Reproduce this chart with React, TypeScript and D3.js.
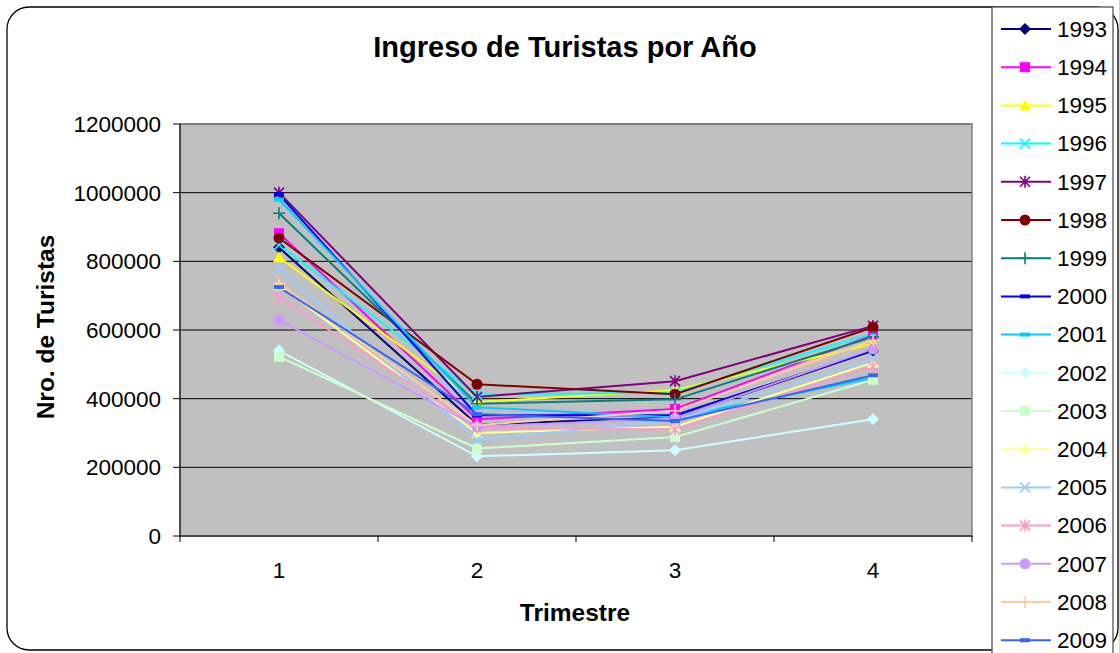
import React from "react";
import * as d3 from "d3";

const quarters = ["1", "2", "3", "4"];
const years = ["1993","1994","1995","1996","1997","1998","1999","2000","2001","2002","2003","2004","2005","2006","2007","2008","2009"];
const v1993 = [840000, 325000, 345000, 540000];
const v1994 = [882000, 340000, 370000, 585000];
const v1995 = [812000, 390000, 425000, 560000];
const v1996 = [848000, 412000, 418000, 590000];
const v1997 = [1000000, 405000, 451000, 612000];
const v1998 = [868000, 442000, 413000, 608000];
const v1999 = [940000, 385000, 398000, 580000];
const v2000 = [995000, 352000, 352000, 540000];
const v2001 = [980000, 375000, 345000, 460000];
const v2002 = [540000, 232000, 250000, 340000];
const v2003 = [522000, 255000, 288000, 455000];
const v2004 = [730000, 300000, 318000, 505000];
const v2005 = [778000, 280000, 338000, 515000];
const v2006 = [696000, 315000, 310000, 493000];
const v2007 = [629000, 318000, 343000, 545000];
const v2008 = [735000, 323000, 365000, 570000];
const v2009 = [725000, 355000, 335000, 468000];
const seriesValues = [v1993,v1994,v1995,v1996,v1997,v1998,v1999,v2000,v2001,v2002,v2003,v2004,v2005,v2006,v2007,v2008,v2009];
const colors = ["#000080","#FF00FF","#FFFF00","#00FFFF","#800080","#800000","#008080","#0000FF","#00CCFF","#CCFFFF","#CCFFCC","#FFFF99","#99CCFF","#FF99CC","#CC99FF","#FFCC99","#3366FF"];
const markers = ["diamond","square","triangle","x","star","circle","plus","dash","dash","diamond","square","triangle","x","star","circle","plus","dash"];
const yTicks = [0, 200000, 400000, 600000, 800000, 1000000, 1200000];

const FONT = "'Liberation Sans', Arial, Helvetica, sans-serif";

function Marker({ type, x, y, color }: { type: string; x: number; y: number; color: string }) {
  switch (type) {
    case "diamond":
      return <path d={`M${x},${y - 6}L${x + 6},${y}L${x},${y + 6}L${x - 6},${y}Z`} fill={color} />;
    case "square":
      return <rect x={x - 5} y={y - 5} width={10} height={10} fill={color} />;
    case "triangle":
      return <path d={`M${x},${y - 6}L${x + 6},${y + 5}L${x - 6},${y + 5}Z`} fill={color} />;
    case "circle":
      return <circle cx={x} cy={y} r={5.5} fill={color} />;
    case "x":
      return <path d={`M${x - 5},${y - 5}L${x + 5},${y + 5}M${x - 5},${y + 5}L${x + 5},${y - 5}`} stroke={color} strokeWidth={1.6} fill="none" />;
    case "star":
      return <path d={`M${x - 5},${y - 5}L${x + 5},${y + 5}M${x - 5},${y + 5}L${x + 5},${y - 5}M${x},${y - 6}L${x},${y + 6}`} stroke={color} strokeWidth={1.6} fill="none" />;
    case "plus":
      return <path d={`M${x - 6},${y}L${x + 6},${y}M${x},${y - 6}L${x},${y + 6}`} stroke={color} strokeWidth={1.6} fill="none" />;
    case "dash":
      return <rect x={x - 5} y={y - 2} width={10} height={4} fill={color} />;
    default:
      return null;
  }
}

export default function App() {
  const W = 1119, H = 653;
  const plot = { left: 180, right: 972, top: 124, bottom: 536 };
  const x = d3.scaleBand<string>().domain(quarters).range([plot.left, plot.right]);
  const y = d3.scaleLinear().domain([0, 1200000]).range([plot.bottom, plot.top]);
  const line = d3.line<number>()
    .x((_, i) => (x(quarters[i]) as number) + x.bandwidth() / 2)
    .y((d) => y(d));
  const boundaries = quarters.map((q) => x(q) as number).concat([plot.right]);
  const legendY0 = 29, legendStep = 38.2;

  return (
    <div style={{ position: "absolute", left: 0, top: 0 }}>
      <svg width={W} height={H} style={{ display: "block", fontFamily: FONT }}>
        <rect x={0} y={0} width={W} height={H} fill="#fff" />
        <rect x={7} y={7} width={1111} height={643} rx={22} ry={22} fill="#fff" stroke="#000" strokeWidth={1.3} />
        <text x={565} y={57} textAnchor="middle" fontSize={29} fontWeight="bold" fill="#000">Ingreso de Turistas por Año</text>

        <rect x={plot.left} y={plot.top} width={plot.right - plot.left} height={plot.bottom - plot.top} fill="#C0C0C0" />
        {yTicks.slice(1).map((t) => (
          <line key={t} x1={plot.left} x2={plot.right} y1={y(t)} y2={y(t)} stroke="#000" strokeWidth={1} />
        ))}
        <rect x={plot.left} y={plot.top} width={plot.right - plot.left} height={plot.bottom - plot.top} fill="none" stroke="#808080" strokeWidth={1.5} />
        <line x1={plot.left} x2={plot.left} y1={plot.top} y2={plot.bottom} stroke="#333" strokeWidth={1.5} />
        <line x1={plot.left} x2={plot.right} y1={plot.bottom} y2={plot.bottom} stroke="#333" strokeWidth={1.5} />
        {yTicks.map((t) => (
          <g key={t}>
            <line x1={plot.left - 7} x2={plot.left} y1={y(t)} y2={y(t)} stroke="#000" />
            <text x={161} y={y(t)} dy="0.35em" textAnchor="end" fontSize={22.5} fill="#000">{t}</text>
          </g>
        ))}
        {boundaries.map((b, i) => (
          <line key={i} x1={b} x2={b} y1={plot.bottom} y2={plot.bottom + 6} stroke="#000" />
        ))}
        {quarters.map((q) => (
          <text key={q} x={(x(q) as number) + x.bandwidth() / 2} y={570} dy="0.35em" textAnchor="middle" fontSize={22.5} fill="#000">{q}</text>
        ))}
        <text x={575} y={612} dy="0.35em" textAnchor="middle" fontSize={24.5} fontWeight="bold" fill="#000">Trimestre</text>
        <text transform={`translate(45,327) rotate(-90)`} dy="0.35em" textAnchor="middle" fontSize={24.5} fontWeight="bold" fill="#000">Nro. de Turistas</text>

        {seriesValues.map((vals, s) => (
          <path key={years[s]} d={line(vals) as string} fill="none" stroke={colors[s]} strokeWidth={2} />
        ))}
        {seriesValues.map((vals, s) => (
          <g key={years[s]}>
            {vals.map((v, i) => (
              <Marker key={i} type={markers[s]} x={(x(quarters[i]) as number) + x.bandwidth() / 2} y={y(v)} color={colors[s]} />
            ))}
          </g>
        ))}

        <rect x={992} y={7} width={121} height={670} fill="#fff" stroke="#555" strokeWidth={1.3} />
        {years.map((yr, s) => {
          const ly = legendY0 + s * legendStep;
          return (
            <g key={yr}>
              <line x1={1001} x2={1051} y1={ly} y2={ly} stroke={colors[s]} strokeWidth={2} />
              <Marker type={markers[s]} x={1025} y={ly} color={colors[s]} />
              <text x={1057} y={ly} dy="0.35em" fontSize={22.5} fill="#000">{yr}</text>
            </g>
          );
        })}
      </svg>
    </div>
  );
}
